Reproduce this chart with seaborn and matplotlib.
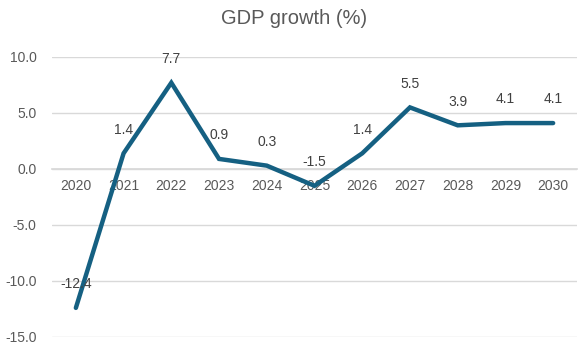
import matplotlib
matplotlib.use("Agg")
import matplotlib.pyplot as plt
import seaborn as sns
import pandas as pd

years = ["2020", "2021", "2022", "2023", "2024", "2025", "2026", "2027", "2028", "2029", "2030"]
growth = [-12.4, 1.4, 7.7, 0.9, 0.3, -1.5, 1.4, 5.5, 3.9, 4.1, 4.1]

sns.set_theme(style="white")
plt.rcParams['font.family'] = ['Liberation Sans', 'DejaVu Sans']

df = pd.DataFrame({"year": years, "growth": growth})

W, H = 588, 345
fig = plt.figure(figsize=(W / 100, H / 100), dpi=100)
ax = fig.add_axes([52 / W, 1 - 337 / H, (577 - 52) / W, (337 - 57) / H])

line_color = "#156082"
text_color = "#595959"
sns.lineplot(data=df, x="year", y="growth", ax=ax, color=line_color, lw=3.2,
             sort=False, solid_capstyle="round", solid_joinstyle="miter", zorder=3)

ax.set_xlim(-0.5, len(years) - 0.5)
ax.set_ylim(-15, 10)
ax.set_yticks([-15, -10, -5, 0, 5, 10])
ax.set_yticklabels([f"{v:.1f}" for v in [-15, -10, -5, 0, 5, 10]], color=text_color, fontsize=10)
ax.yaxis.grid(True, color="#d9d9d9", lw=1)
ax.set_axisbelow(True)

for s in ["top", "right", "left"]:
    ax.spines[s].set_visible(False)
ax.spines["bottom"].set_position(("data", 0))
ax.spines["bottom"].set_color("#d9d9d9")
ax.tick_params(axis="both", length=0)
ax.tick_params(axis="x", pad=7, labelsize=10, labelcolor=text_color)
ax.tick_params(axis="y", pad=11)
ax.set_xlabel("")
ax.set_ylabel("")

for i, v in enumerate(growth):
    ax.annotate(f"{v:.1f}", (i, v), xytext=(0, 12), textcoords="offset points",
                ha="center", va="bottom", fontsize=10, color="#404040")

fig.text(0.5, 1 - 18 / H, "GDP growth (%)", ha="center", va="center", fontsize=14.5, color=text_color)

fig.savefig("out.png", dpi=100)
